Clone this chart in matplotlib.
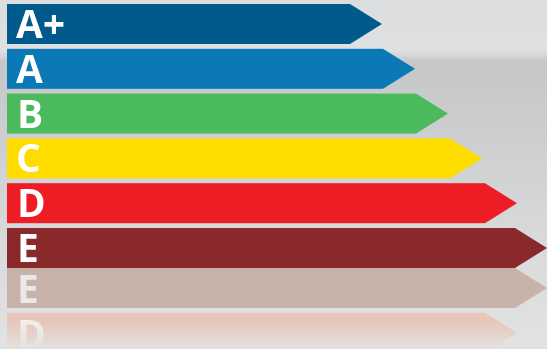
import numpy as np
import matplotlib.pyplot as plt
from matplotlib.patches import Polygon
from matplotlib.colors import to_rgb

# energy classes, top to bottom
labels = ["A+", "A", "B", "C", "D", "E"]
lengths = [382, 415, 448, 482, 517, 547]   # tip position of each arrow
colors = ["#015a8c", "#0b79b5", "#4aba5d", "#ffdc00", "#ee1d25", "#8a292c"]

# faded mirror image under the last bar
refl_labels = ["E", "D"]
refl_lengths = [547, 517]
refl_colors = ["#c8b3aa", "#e8c7ba"]
refl_text = ["#e9e9e9", "#f4eeea"]

W, H = 547, 349
left = 7
bar_h = 40
step = 44.8
tip = 32

fig = plt.figure(figsize=(W / 100, H / 100), dpi=100)
ax = fig.add_axes([0, 0, 1, 1])
ax.set_xlim(0, W)
ax.set_ylim(H, 0)
ax.axis("off")

# background: light grey with a darker band under the top row
ys = np.array([0, 50, 56, 61, 150, 250, 349])
cs = np.array([to_rgb(c) for c in ["#dcdddf", "#e0e1e3", "#d3d4d6", "#c6c7c9",
                                    "#cfd0d2", "#dadbdc", "#e3e3e3"]])
yy = np.arange(H)
grad = np.stack([np.interp(yy, ys, cs[:, k]) for k in range(3)], axis=-1)
bg = np.repeat(grad[:, None, :], W, axis=1)
ax.imshow(bg, extent=[0, W, H, 0], aspect="auto", zorder=0)


def arrow(top, bot, L, col):
    pts = [(left, top), (L - tip, top), (L, (top + bot) / 2), (L - tip, bot), (left, bot)]
    p = Polygon(pts, closed=True, facecolor=col, edgecolor="none", zorder=2)
    ax.add_patch(p)
    return p


for i, (lab, L, col) in enumerate(zip(labels, lengths, colors)):
    top = 4 + i * step
    bot = top + bar_h
    arrow(top, bot, L, col)
    ax.text(left + 9, bot - 6, lab, color="white", fontsize=28, fontfamily="Open Sans",
            fontweight="bold", va="baseline", ha="left", zorder=3)

mirror = 4 + (len(labels) - 1) * step + bar_h
for j, (lab, L, col, tc) in enumerate(zip(refl_labels, refl_lengths, refl_colors, refl_text)):
    top = mirror + j * step
    bot = top + bar_h
    p = arrow(top, bot, L, col)
    ax.text(left + 9, bot - 5, lab, color=tc, fontsize=28, fontfamily="Open Sans",
            fontweight="bold", va="baseline", ha="left", zorder=3, clip_on=True)
    if j == len(refl_labels) - 1:
        # fade the last one into the background
        r0, r1 = int(top), H
        ov = np.zeros((r1 - r0, 1, 4))
        ov[:, 0, :3] = grad[r0:r1]
        ov[:, 0, 3] = np.clip((np.arange(r0, r1) - top - 8) / 28.0, 0, 1)
        im = ax.imshow(ov, extent=[left, L, r1, r0], aspect="auto", zorder=4)
        im.set_clip_path(p)

fig.savefig("out.png", dpi=100)
